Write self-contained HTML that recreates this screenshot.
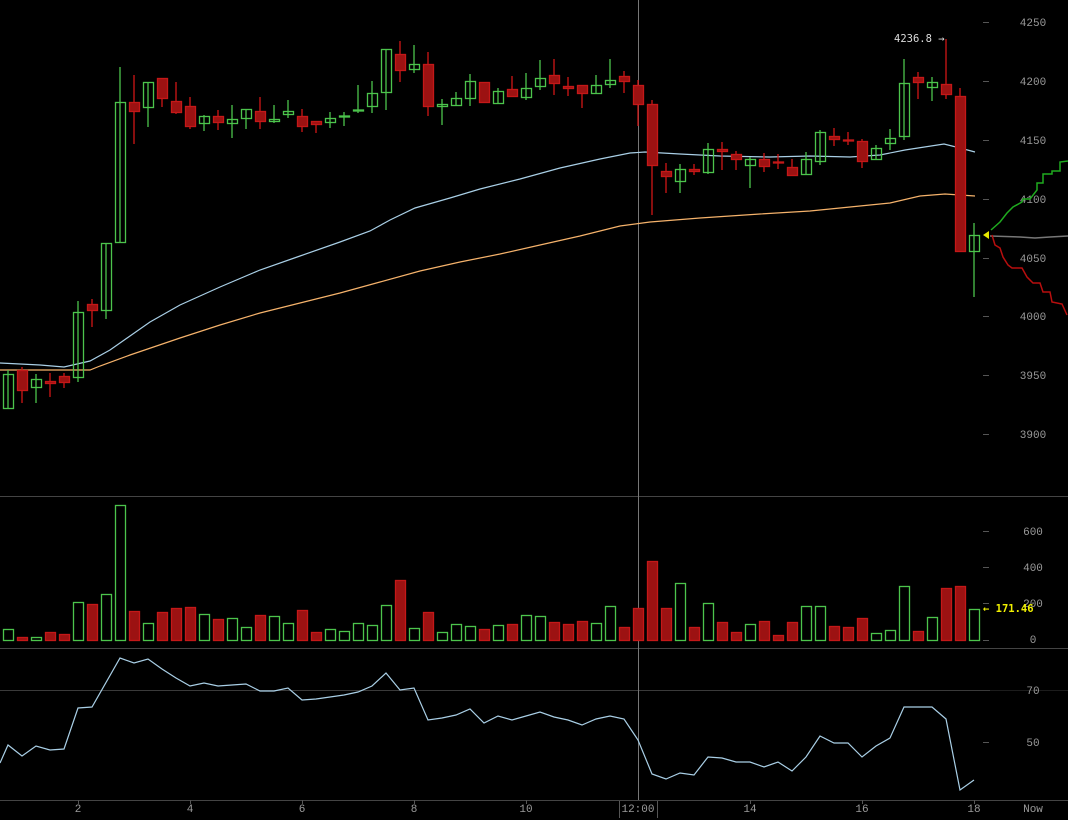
<!DOCTYPE html>
<html><head><meta charset="utf-8"><style>
html,body{margin:0;padding:0;background:#000;}
svg{display:block}
text{font-family:"Liberation Mono","DejaVu Sans Mono",monospace;font-size:11px;fill:#9a9a9a}
.arr{font-family:"DejaVu Sans Mono","Liberation Mono",monospace;font-size:10.5px}
.g line,.g rect{stroke:#4cc44c;fill:none;stroke-width:1.3}
.r line{stroke:#d01515;stroke-width:1.3}
.r rect{stroke:#c41818;fill:#9c1212;stroke-width:1.3}
</style></head><body>
<svg width="1068" height="820" viewBox="0 0 1068 820" xmlns="http://www.w3.org/2000/svg">
<rect width="1068" height="820" fill="#000"/>
<line x1="0" y1="496.5" x2="1068" y2="496.5" stroke="#444"/>
<line x1="0" y1="648.5" x2="1068" y2="648.5" stroke="#444"/>
<line x1="0" y1="800.5" x2="1068" y2="800.5" stroke="#444"/>
<line x1="0" y1="690.5" x2="990" y2="690.5" stroke="#3a3a3a"/>
<line x1="990" y1="690.5" x2="1068" y2="690.5" stroke="#1c1c1c"/>
<line x1="638.5" y1="0" x2="638.5" y2="800" stroke="#777"/>
<g stroke="#555">
<line x1="983" y1="22.5" x2="989" y2="22.5"/><line x1="983" y1="81.5" x2="989" y2="81.5"/><line x1="983" y1="140.5" x2="989" y2="140.5"/><line x1="983" y1="199.5" x2="989" y2="199.5"/><line x1="983" y1="258.5" x2="989" y2="258.5"/><line x1="983" y1="316.5" x2="989" y2="316.5"/><line x1="983" y1="375.5" x2="989" y2="375.5"/><line x1="983" y1="434.5" x2="989" y2="434.5"/>
<line x1="983" y1="531.5" x2="989" y2="531.5"/><line x1="983" y1="567.5" x2="989" y2="567.5"/><line x1="983" y1="603.5" x2="989" y2="603.5"/><line x1="983" y1="640.5" x2="989" y2="640.5"/>
<line x1="983" y1="742.5" x2="989" y2="742.5"/>
</g>
<g text-anchor="middle">
<text x="1033" y="26">4250</text><text x="1033" y="85">4200</text><text x="1033" y="144">4150</text><text x="1033" y="203">4100</text><text x="1033" y="262">4050</text><text x="1033" y="320">4000</text><text x="1033" y="379">3950</text><text x="1033" y="438">3900</text>
<text x="1033" y="535">600</text><text x="1033" y="571">400</text><text x="1033" y="607">200</text><text x="1033" y="643">0</text>
<text x="1033" y="694">70</text><text x="1033" y="746">50</text>
<text x="78" y="812">2</text><text x="190" y="812">4</text><text x="302" y="812">6</text><text x="414" y="812">8</text><text x="526" y="812">10</text><text x="638" y="812">12:00</text><text x="750" y="812">14</text><text x="862" y="812">16</text><text x="974" y="812">18</text><text x="1033" y="812">Now</text>
</g>
<g stroke="#555"><line x1="78.5" y1="800" x2="78.5" y2="804"/><line x1="190.5" y1="800" x2="190.5" y2="804"/><line x1="302.5" y1="800" x2="302.5" y2="804"/><line x1="414.5" y1="800" x2="414.5" y2="804"/><line x1="526.5" y1="800" x2="526.5" y2="804"/><line x1="750.5" y1="800" x2="750.5" y2="804"/><line x1="862.5" y1="800" x2="862.5" y2="804"/><line x1="974.5" y1="800" x2="974.5" y2="804"/><line x1="619.5" y1="801" x2="619.5" y2="818"/><line x1="657.5" y1="801" x2="657.5" y2="818"/></g>
<text class="arr" x="894" y="42" style="fill:#ddd">4236.8 →</text>
<polyline fill="none" stroke="#a9cfe6" stroke-width="1.2" points="0,363 40,365 64,367 90,361 110,350 130,336 150,322 180,305 220,287 260,270 300,256 340,242 370,231 390,220 415,208 450,198 480,189 520,179 560,168 600,159 630,153 645,152 680,154 720,156 770,157 810,156 850,157 880,155 905,150 944,144 960,148 975,152"/>
<polyline fill="none" stroke="#f5b26b" stroke-width="1.2" points="0,370 90,370 100,366 130,355 180,338 220,325 260,313 300,303 340,293 380,282 420,271 460,262 500,254 540,245 580,236 620,226 650,222 700,218 760,214 810,211 850,207 890,203 920,196 945,194 975,196"/>
<polyline fill="none" stroke="#777" stroke-width="1.5" points="990,236 1020,237 1035,238 1050,237 1068,236"/>
<polyline fill="none" stroke="#1faa1f" stroke-width="1.5" points="991,230 1000,222 1007,213 1013,207 1022,202 1023,199 1030,199 1037,190 1037,183 1043,183 1043,174 1052,174 1052,171 1060,171 1060,162 1068,161"/>
<polyline fill="none" stroke="#b80e0e" stroke-width="1.5" points="992,235 995,245 1000,248 1003,257 1008,265 1012,268 1022,268 1027,277 1033,283 1040,283 1043,292 1050,292 1052,302 1062,304 1067,315"/>
<polygon points="983,235 989,231 989,239" fill="#e8e800"/>
<g class="g">
<line x1="8" y1="370" x2="8" y2="408"/><rect x="3.5" y="374.5" width="10" height="34"/>
<line x1="36" y1="374" x2="36" y2="403"/><rect x="31.5" y="379.5" width="10" height="8"/>
<line x1="78" y1="301" x2="78" y2="382"/><rect x="73.5" y="312.5" width="10" height="65"/>
<line x1="106" y1="243" x2="106" y2="319"/><rect x="101.5" y="243.5" width="10" height="67"/>
<line x1="120" y1="67" x2="120" y2="242"/><rect x="115.5" y="102.5" width="10" height="140"/>
<line x1="148" y1="82" x2="148" y2="127"/><rect x="143.5" y="82.5" width="10" height="25"/>
<line x1="204" y1="115" x2="204" y2="131"/><rect x="199.5" y="116.5" width="10" height="7"/>
<line x1="232" y1="105" x2="232" y2="138"/><rect x="227.5" y="119.5" width="10" height="4"/>
<line x1="246" y1="109" x2="246" y2="129"/><rect x="241.5" y="109.5" width="10" height="9"/>
<line x1="274" y1="105" x2="274" y2="123"/><rect x="269.5" y="119.5" width="10" height="2"/>
<line x1="288" y1="100" x2="288" y2="118"/><rect x="283.5" y="111.5" width="10" height="3"/>
<line x1="330" y1="112" x2="330" y2="128"/><rect x="325.5" y="118.5" width="10" height="4"/>
<line x1="344" y1="112" x2="344" y2="126"/><rect x="339.5" y="116" width="10" height="1"/>
<line x1="358" y1="85" x2="358" y2="113"/><rect x="353.5" y="110" width="10" height="1"/>
<line x1="372" y1="81" x2="372" y2="113"/><rect x="367.5" y="93.5" width="10" height="13"/>
<line x1="386" y1="49" x2="386" y2="110"/><rect x="381.5" y="49.5" width="10" height="43"/>
<line x1="414" y1="45" x2="414" y2="73"/><rect x="409.5" y="64.5" width="10" height="5"/>
<line x1="442" y1="99" x2="442" y2="125"/><rect x="437.5" y="104.5" width="10" height="2"/>
<line x1="456" y1="92" x2="456" y2="105"/><rect x="451.5" y="98.5" width="10" height="7"/>
<line x1="470" y1="74" x2="470" y2="106"/><rect x="465.5" y="81.5" width="10" height="17"/>
<line x1="498" y1="88" x2="498" y2="104"/><rect x="493.5" y="91.5" width="10" height="12"/>
<line x1="526" y1="73" x2="526" y2="100"/><rect x="521.5" y="88.5" width="10" height="9"/>
<line x1="540" y1="60" x2="540" y2="90"/><rect x="535.5" y="78.5" width="10" height="8"/>
<line x1="596" y1="75" x2="596" y2="93"/><rect x="591.5" y="85.5" width="10" height="8"/>
<line x1="610" y1="59" x2="610" y2="88"/><rect x="605.5" y="80.5" width="10" height="4"/>
<line x1="680" y1="164" x2="680" y2="193"/><rect x="675.5" y="169.5" width="10" height="12"/>
<line x1="708" y1="143" x2="708" y2="174"/><rect x="703.5" y="149.5" width="10" height="23"/>
<line x1="750" y1="157" x2="750" y2="188"/><rect x="745.5" y="159.5" width="10" height="6"/>
<line x1="806" y1="152" x2="806" y2="174"/><rect x="801.5" y="159.5" width="10" height="15"/>
<line x1="820" y1="130" x2="820" y2="165"/><rect x="815.5" y="132.5" width="10" height="29"/>
<line x1="876" y1="145" x2="876" y2="159"/><rect x="871.5" y="148.5" width="10" height="11"/>
<line x1="890" y1="129" x2="890" y2="150"/><rect x="885.5" y="138.5" width="10" height="5"/>
<line x1="904" y1="59" x2="904" y2="140"/><rect x="899.5" y="83.5" width="10" height="53"/>
<line x1="932" y1="77" x2="932" y2="101"/><rect x="927.5" y="82.5" width="10" height="5"/>
<line x1="974" y1="223" x2="974" y2="297"/><rect x="969.5" y="235.5" width="10" height="16"/>
</g>
<g class="r">
<line x1="22" y1="367" x2="22" y2="403"/><rect x="17.5" y="370.5" width="10" height="20"/>
<line x1="50" y1="373" x2="50" y2="397"/><rect x="45.5" y="381.5" width="10" height="2"/>
<line x1="64" y1="373" x2="64" y2="388"/><rect x="59.5" y="376.5" width="10" height="6"/>
<line x1="92" y1="299" x2="92" y2="327"/><rect x="87.5" y="304.5" width="10" height="6"/>
<line x1="134" y1="75" x2="134" y2="144"/><rect x="129.5" y="102.5" width="10" height="9"/>
<line x1="162" y1="78" x2="162" y2="107"/><rect x="157.5" y="78.5" width="10" height="20"/>
<line x1="176" y1="82" x2="176" y2="114"/><rect x="171.5" y="101.5" width="10" height="11"/>
<line x1="190" y1="97" x2="190" y2="129"/><rect x="185.5" y="106.5" width="10" height="20"/>
<line x1="218" y1="110" x2="218" y2="130"/><rect x="213.5" y="116.5" width="10" height="6"/>
<line x1="260" y1="97" x2="260" y2="129"/><rect x="255.5" y="111.5" width="10" height="10"/>
<line x1="302" y1="109" x2="302" y2="132"/><rect x="297.5" y="116.5" width="10" height="10"/>
<line x1="316" y1="121" x2="316" y2="133"/><rect x="311.5" y="121.5" width="10" height="3"/>
<line x1="400" y1="41" x2="400" y2="82"/><rect x="395.5" y="54.5" width="10" height="16"/>
<line x1="428" y1="52" x2="428" y2="116"/><rect x="423.5" y="64.5" width="10" height="42"/>
<line x1="484" y1="82" x2="484" y2="102"/><rect x="479.5" y="82.5" width="10" height="20"/>
<line x1="512" y1="76" x2="512" y2="96"/><rect x="507.5" y="89.5" width="10" height="7"/>
<line x1="554" y1="59" x2="554" y2="95"/><rect x="549.5" y="75.5" width="10" height="8"/>
<line x1="568" y1="77" x2="568" y2="96"/><rect x="563.5" y="86.5" width="10" height="2"/>
<line x1="582" y1="85" x2="582" y2="108"/><rect x="577.5" y="85.5" width="10" height="8"/>
<line x1="624" y1="71" x2="624" y2="93"/><rect x="619.5" y="76.5" width="10" height="5"/>
<line x1="638" y1="80" x2="638" y2="126"/><rect x="633.5" y="85.5" width="10" height="19"/>
<line x1="652" y1="100" x2="652" y2="215"/><rect x="647.5" y="104.5" width="10" height="61"/>
<line x1="666" y1="163" x2="666" y2="193"/><rect x="661.5" y="171.5" width="10" height="5"/>
<line x1="694" y1="164" x2="694" y2="175"/><rect x="689.5" y="169.5" width="10" height="2"/>
<line x1="722" y1="142" x2="722" y2="170"/><rect x="717.5" y="149.5" width="10" height="2"/>
<line x1="736" y1="151" x2="736" y2="170"/><rect x="731.5" y="154.5" width="10" height="5"/>
<line x1="764" y1="153" x2="764" y2="172"/><rect x="759.5" y="159.5" width="10" height="7"/>
<line x1="778" y1="154" x2="778" y2="169"/><rect x="773.5" y="162" width="10" height="1"/>
<line x1="792" y1="159" x2="792" y2="175"/><rect x="787.5" y="167.5" width="10" height="8"/>
<line x1="834" y1="128" x2="834" y2="146"/><rect x="829.5" y="136.5" width="10" height="3"/>
<line x1="848" y1="132" x2="848" y2="145"/><rect x="843.5" y="140" width="10" height="1"/>
<line x1="862" y1="139" x2="862" y2="168"/><rect x="857.5" y="141.5" width="10" height="20"/>
<line x1="918" y1="72" x2="918" y2="99"/><rect x="913.5" y="77.5" width="10" height="5"/>
<line x1="946" y1="39" x2="946" y2="99"/><rect x="941.5" y="84.5" width="10" height="10"/>
<line x1="960" y1="88" x2="960" y2="251"/><rect x="955.5" y="96.5" width="10" height="155"/>
</g>
<g class="g">
<rect x="3.5" y="629.5" width="10" height="11"/><rect x="31.5" y="637.5" width="10" height="3"/><rect x="73.5" y="602.5" width="10" height="38"/><rect x="101.5" y="594.5" width="10" height="46"/><rect x="115.5" y="505.5" width="10" height="135"/><rect x="143.5" y="623.5" width="10" height="17"/><rect x="199.5" y="614.5" width="10" height="26"/><rect x="227.5" y="618.5" width="10" height="22"/><rect x="241.5" y="627.5" width="10" height="13"/><rect x="269.5" y="616.5" width="10" height="24"/><rect x="283.5" y="623.5" width="10" height="17"/><rect x="325.5" y="629.5" width="10" height="11"/><rect x="339.5" y="631.5" width="10" height="9"/><rect x="353.5" y="623.5" width="10" height="17"/><rect x="367.5" y="625.5" width="10" height="15"/><rect x="381.5" y="605.5" width="10" height="35"/><rect x="409.5" y="628.5" width="10" height="12"/><rect x="437.5" y="632.5" width="10" height="8"/><rect x="451.5" y="624.5" width="10" height="16"/><rect x="465.5" y="626.5" width="10" height="14"/><rect x="493.5" y="625.5" width="10" height="15"/><rect x="521.5" y="615.5" width="10" height="25"/><rect x="535.5" y="616.5" width="10" height="24"/><rect x="591.5" y="623.5" width="10" height="17"/><rect x="605.5" y="606.5" width="10" height="34"/><rect x="675.5" y="583.5" width="10" height="57"/><rect x="703.5" y="603.5" width="10" height="37"/><rect x="745.5" y="624.5" width="10" height="16"/><rect x="801.5" y="606.5" width="10" height="34"/><rect x="815.5" y="606.5" width="10" height="34"/><rect x="871.5" y="633.5" width="10" height="7"/><rect x="885.5" y="630.5" width="10" height="10"/><rect x="899.5" y="586.5" width="10" height="54"/><rect x="927.5" y="617.5" width="10" height="23"/><rect x="969.5" y="609.5" width="10" height="31"/>
</g>
<g class="r">
<rect x="17.5" y="637.5" width="10" height="3"/><rect x="45.5" y="632.5" width="10" height="8"/><rect x="59.5" y="634.5" width="10" height="6"/><rect x="87.5" y="604.5" width="10" height="36"/><rect x="129.5" y="611.5" width="10" height="29"/><rect x="157.5" y="612.5" width="10" height="28"/><rect x="171.5" y="608.5" width="10" height="32"/><rect x="185.5" y="607.5" width="10" height="33"/><rect x="213.5" y="619.5" width="10" height="21"/><rect x="255.5" y="615.5" width="10" height="25"/><rect x="297.5" y="610.5" width="10" height="30"/><rect x="311.5" y="632.5" width="10" height="8"/><rect x="395.5" y="580.5" width="10" height="60"/><rect x="423.5" y="612.5" width="10" height="28"/><rect x="479.5" y="629.5" width="10" height="11"/><rect x="507.5" y="624.5" width="10" height="16"/><rect x="549.5" y="622.5" width="10" height="18"/><rect x="563.5" y="624.5" width="10" height="16"/><rect x="577.5" y="621.5" width="10" height="19"/><rect x="619.5" y="627.5" width="10" height="13"/><rect x="633.5" y="608.5" width="10" height="32"/><rect x="647.5" y="561.5" width="10" height="79"/><rect x="661.5" y="608.5" width="10" height="32"/><rect x="689.5" y="627.5" width="10" height="13"/><rect x="717.5" y="622.5" width="10" height="18"/><rect x="731.5" y="632.5" width="10" height="8"/><rect x="759.5" y="621.5" width="10" height="19"/><rect x="773.5" y="635.5" width="10" height="5"/><rect x="787.5" y="622.5" width="10" height="18"/><rect x="829.5" y="626.5" width="10" height="14"/><rect x="843.5" y="627.5" width="10" height="13"/><rect x="857.5" y="618.5" width="10" height="22"/><rect x="913.5" y="631.5" width="10" height="9"/><rect x="941.5" y="588.5" width="10" height="52"/><rect x="955.5" y="586.5" width="10" height="54"/>
</g>
<text class="arr" x="983" y="612" style="fill:#f0f000;font-weight:bold">← 171.46</text>
<polyline fill="none" stroke="#a9cfe6" stroke-width="1.2" points="0,763 8,745 22,756 36,746 50,750 64,749 78,708 92,707 120,658 134,663 148,659 162,669 176,678 190,686 204,683 218,686 232,685 246,684 260,691 274,691 288,688 302,700 316,699 330,697 344,695 358,692 372,686 386,673 400,690 414,688 428,720 442,718 456,715 470,709 484,723 498,716 512,720 526,716 540,712 554,717 568,720 582,725 596,719 610,716 624,719 638,740 652,774 666,779 680,773 694,775 708,757 722,758 736,762 750,762 764,767 778,762 792,771 806,757 820,736 834,743 848,743 862,757 876,746 890,738 904,707 918,707 932,707 946,719 960,790 974,780"/>
</svg>
</body></html>
